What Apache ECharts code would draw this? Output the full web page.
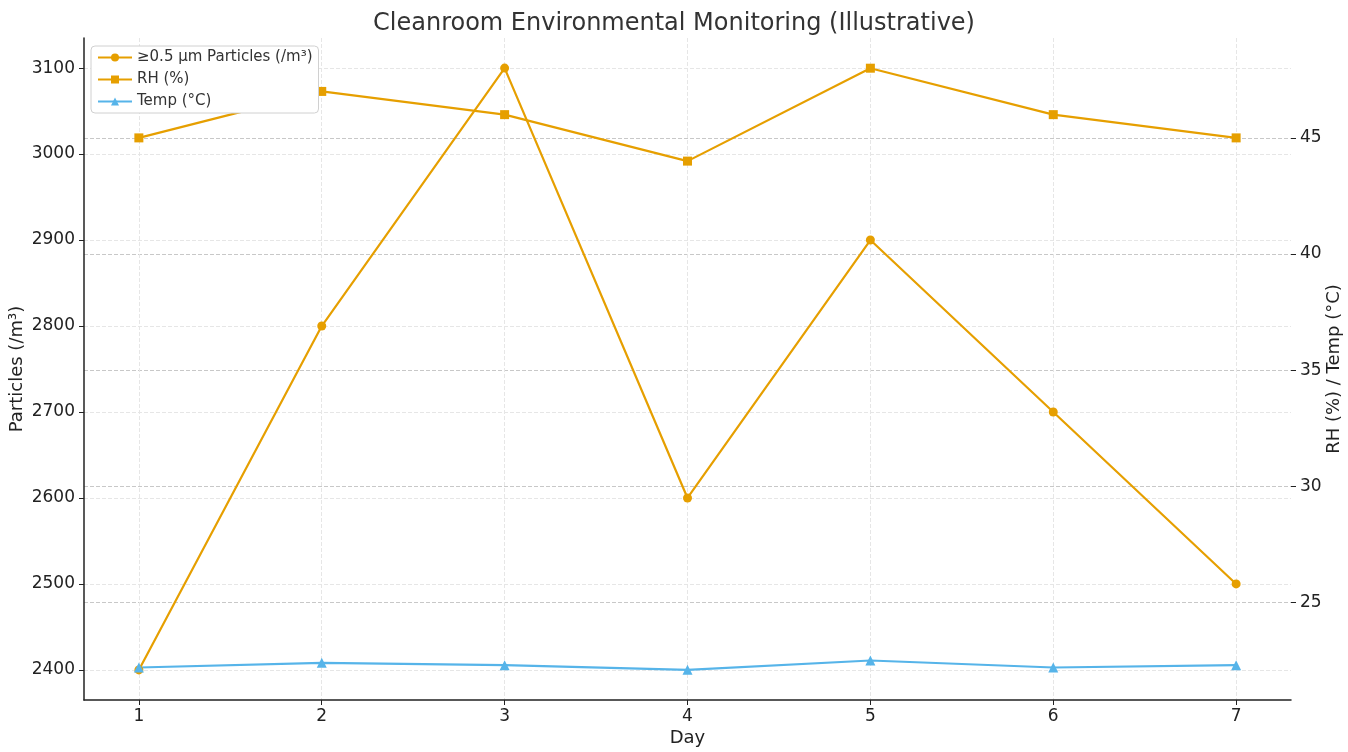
<!DOCTYPE html>
<html>
<head>
<meta charset="utf-8">
<script src="https://cdn.jsdelivr.net/npm/echarts@6/dist/echarts.min.js"></script>
<style>
  html, body { margin: 0; padding: 0; background: #fff; }
  #chart { width: 1348px; height: 752px; }
</style>
</head>
<body>
<div id="chart"></div>
<script>
const days = [1, 2, 3, 4, 5, 6, 7];
const particles = [2400, 2800, 3100, 2600, 2900, 2700, 2500];
const rh = [45, 47, 46, 44, 48, 46, 45];
const temp = [22.2, 22.4, 22.3, 22.1, 22.5, 22.2, 22.3];
const leftTicks = [2400, 2500, 2600, 2700, 2800, 2900, 3000, 3100];
const rightTicks = [25, 30, 35, 40, 45];

const font = "DejaVu Sans";
const orange = "#E69F00";
const blue = "#56B4E9";

const chart = echarts.init(document.getElementById("chart"));

const pairs = (ys) => days.map((d, i) => [d, ys[i]]);
const plain = (v) => String(v);

chart.setOption({
  animation: false,
  textStyle: { fontFamily: font },
  title: {
    text: "Cleanroom Environmental Monitoring (Illustrative)",
    left: "center", top: 7,
    textStyle: { fontFamily: font, fontSize: 24, fontWeight: "normal", color: "#333" }
  },
  legend: {
    orient: "vertical", left: 91, top: 46,
    backgroundColor: "#fff", borderColor: "#d0d0d0", borderWidth: 1, borderRadius: 4,
    padding: [4, 6, 4, 6], itemGap: 7, itemWidth: 34, itemHeight: 10,
    textStyle: { fontFamily: font, fontSize: 15, color: "#333" },
    data: ["≥0.5 µm Particles (/m³)", "RH (%)", "Temp (°C)"]
  },
  grid: { left: 84, right: 57, top: 38, bottom: 52, outerBoundsMode: "none", containLabel: false },
  xAxis: {
    type: "value", min: 0.7, max: 7.3,
    name: "Day", nameLocation: "middle", nameGap: 29, nameMoveOverlap: false,
    nameTextStyle: { fontFamily: font, fontSize: 18, color: "#222" },
    axisLine: { onZero: false, lineStyle: { color: "#222", width: 1.5 } },
    axisTick: { customValues: days, length: 5, lineStyle: { color: "#222" } },
    axisLabel: { customValues: days, fontSize: 17, color: "#222", margin: 8, formatter: plain },
    splitLine: { show: true, lineStyle: { color: "#e6e6e6", type: "dashed", width: 1 } }
  },
  yAxis: [
    {
      type: "value", min: 2365, max: 3135,
      name: "Particles (/m³)", nameLocation: "middle", nameGap: 58, nameRotate: 90, nameMoveOverlap: false,
      nameTextStyle: { fontFamily: font, fontSize: 18, color: "#222" },
      axisLine: { show: true, lineStyle: { color: "#222", width: 1.5 } },
      axisTick: { show: true, customValues: leftTicks, length: 5, lineStyle: { color: "#222" } },
      axisLabel: { customValues: leftTicks, fontSize: 17, color: "#222", margin: 9, formatter: plain },
      splitLine: { show: true, lineStyle: { color: "#e6e6e6", type: "dashed", width: 1 } }
    },
    {
      type: "value", min: 20.8, max: 49.3, position: "right",
      name: "RH (%) / Temp (°C)", nameLocation: "middle", nameGap: 34, nameRotate: 90, nameMoveOverlap: false,
      nameTextStyle: { fontFamily: font, fontSize: 18, color: "#222" },
      axisLine: { show: false },
      axisTick: { show: true, customValues: rightTicks, length: 5, lineStyle: { color: "#222" } },
      axisLabel: { customValues: rightTicks, fontSize: 17, color: "#222", margin: 9, formatter: plain },
      splitLine: { show: true, lineStyle: { color: "#c8c8c8", type: "dashed", width: 1 } }
    }
  ],
  series: [
    {
      name: "≥0.5 µm Particles (/m³)", type: "line", yAxisIndex: 0,
      data: pairs(particles), symbol: "circle", symbolSize: 9,
      lineStyle: { color: orange, width: 2.2 }, itemStyle: { color: orange }
    },
    {
      name: "RH (%)", type: "line", yAxisIndex: 1,
      data: pairs(rh), symbol: "rect", symbolSize: 9,
      lineStyle: { color: orange, width: 2.2 }, itemStyle: { color: orange }
    },
    {
      name: "Temp (°C)", type: "line", yAxisIndex: 1,
      data: pairs(temp), symbol: "triangle", symbolSize: 10,
      lineStyle: { color: blue, width: 2.2 }, itemStyle: { color: blue }
    }
  ]
});
</script>
</body>
</html>
